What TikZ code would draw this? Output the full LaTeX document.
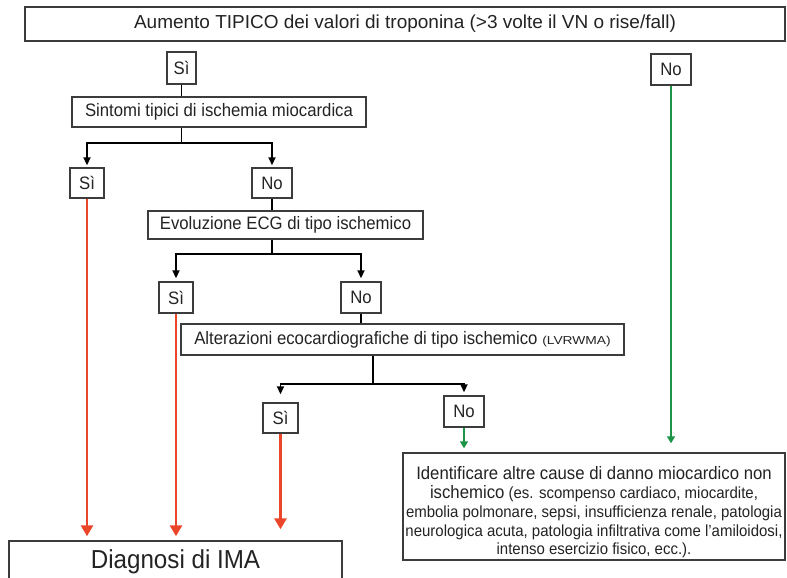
\documentclass[tikz,border=0pt]{standalone}
\usepackage{fontspec}
\setmainfont{Liberation Sans}[FakeStretch=0.93]
\usetikzlibrary{arrows.meta,calc}
\definecolor{boxgray}{RGB}{60,60,60}
\definecolor{txt}{RGB}{35,35,35}
\definecolor{ima}{RGB}{236,70,42}
\definecolor{altre}{RGB}{28,150,70}
\tikzset{
  box/.style={draw=boxgray, line width=1.4pt, fill=white, inner sep=0pt, text=txt,
              font=\fontsize{18}{20}\selectfont, anchor=center},
  blk/.style={draw=black, line width=1.8pt},
  blkarrow/.style={blk, -{Triangle[width=7pt,length=8pt]}},
  redarrow/.style={draw=ima, line width=2.8pt, -{Triangle[width=12pt,length=11pt]}},
  greenarrow/.style={draw=altre, line width=2.3pt, -{Triangle[width=8pt,length=7pt]}}
}
\begin{document}
\begin{tikzpicture}[x=1pt, y=-1pt]
\useasboundingbox (0,0) rectangle (787,578);
\clip (0,0) rectangle (787,578);

% decision boxes
\node[box, minimum width=760pt, minimum height=34pt,
      font=\fontsize{18.8}{21}\selectfont\addfontfeature{FakeStretch=1.01}] (top) at (405,24)
  {Aumento TIPICO dei valori di troponina (>3 volte il VN o rise/fall)};
\node[box, minimum width=29pt, minimum height=32pt] (si1) at (181.5,68) {Sì};
\node[box, minimum width=40pt, minimum height=31pt] (no1) at (671,69.5) {No};
\node[box, minimum width=294pt, minimum height=30pt] (sintomi) at (219,112)
  {Sintomi tipici di ischemia miocardica};
\node[box, minimum width=34pt, minimum height=30pt] (si2) at (87,183) {Sì};
\node[box, minimum width=40pt, minimum height=30pt] (no2) at (272,183) {No};
\node[box, minimum width=275pt, minimum height=28pt] (evo) at (285.5,225)
  {Evoluzione ECG di tipo ischemico};
\node[box, minimum width=34pt, minimum height=31pt] (si3) at (176,297.5) {Sì};
\node[box, minimum width=40pt, minimum height=31pt] (no3) at (361,297.5) {No};
\node[box, minimum width=443pt, minimum height=31pt] (alt) at (402.5,339.5)
  {Alterazioni ecocardiografiche di tipo ischemico
   {\fontsize{11.5}{12}\selectfont\addfontfeature{FakeStretch=1.2}(LVRWMA)}};
\node[box, minimum width=35pt, minimum height=30pt] (si4) at (280.5,418) {Sì};
\node[box, minimum width=40pt, minimum height=31pt] (no4) at (464,411.5) {No};

% outcomes
\node[box, minimum width=382pt, minimum height=107pt, align=center,
      font=\fontsize{16.1}{18.7}\selectfont] (ident) at (594,506.5)
  {{\fontsize{18}{19}\selectfont\rule{0pt}{25pt}Identificare altre cause di danno miocardico non}\\
   {\fontsize{18}{19}\selectfont ischemico} (es. scompenso cardiaco, miocardite,\\
   embolia polmonare, sepsi, insufficienza renale, patologia\\
   neurologica acuta, patologia infiltrativa come l'amiloidosi,\\
   intenso esercizio fisico, ecc.).};
\node[box, minimum width=333pt, minimum height=42pt,
      font=\fontsize{26}{28}\selectfont] (diag) at (175.5,562) {Diagnosi di IMA};

% branching points
\coordinate (j1) at ($(sintomi.south -| si1.south)+(0,15)$);
\coordinate (j2) at ($(evo.south -| no2.south)+(0,14)$);
\coordinate (j3) at (373,384);

% black connectors
\draw[blk] (si1.south) -- (si1.south |- sintomi.north);
\draw[blk] (sintomi.south -| j1) -- (j1);
\draw[blkarrow, shorten >=2pt] (j1) -| (si2.north);
\draw[blkarrow, shorten >=2pt] (j1) -| (no2.north);
\draw[blk] (no2.south) -- (no2.south |- evo.north);
\draw[blk] (evo.south -| j2) -- (j2);
\draw[blkarrow, shorten >=3pt] (j2) -| (si3.north);
\draw[blkarrow, shorten >=3pt] (j2) -| (no3.north);
\draw[blk] (no3.south) -- (no3.south |- alt.north);
\draw[blk] (alt.south -| j3) -- (j3);
\draw[blkarrow, shorten >=8pt] (j3) -| (si4.north);
\draw[blkarrow, shorten >=3pt] (j3) -| (no4.north);

% red connectors to the diagnosis
\draw[redarrow, shorten >=4pt] (si2.south) -- (si2.south |- diag.north);
\draw[redarrow, shorten >=4pt] (si3.south) -- (si3.south |- diag.north);
\draw[redarrow, shorten >=11pt] (si4.south) -- (si4.south |- diag.north);

% green connectors to other causes
\draw[greenarrow, shorten >=4pt] (no4.south) -- (no4.south |- ident.north);
\draw[greenarrow, shorten >=9pt] (no1.south) -- (no1.south |- ident.north);
\end{tikzpicture}
\end{document}
